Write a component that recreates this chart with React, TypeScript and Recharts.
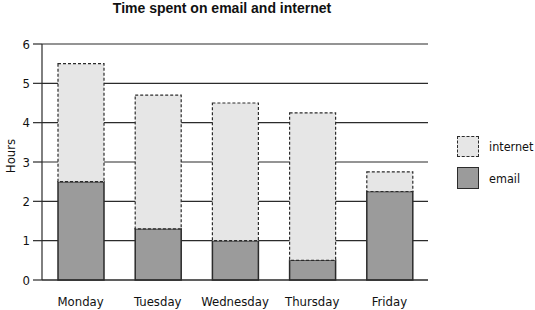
import React from 'react';
import { BarChart, Bar, XAxis, YAxis, CartesianGrid, ReferenceArea } from 'recharts';

const days = ['Monday', 'Tuesday', 'Wednesday', 'Thursday', 'Friday'];
const email = [2.5, 1.3, 1.0, 0.5, 2.25];
const internet = [3.0, 3.4, 3.5, 3.75, 0.5];
const yTicks = [0, 1, 2, 3, 4, 5, 6];

const data = days.map((d, i) => ({ day: d, email: email[i], internet: internet[i] }));

const FONT = '"DejaVu Sans Condensed", "Liberation Sans Narrow", sans-serif';
const EMAIL_FILL = '#9b9b9b';
const NET_FILL = '#e6e6e6';
const STROKE = '#2b2b2b';

const ChartLegend = () => (
  <div style={{ position: 'absolute', left: 457, top: 135, width: 78, whiteSpace: 'nowrap', fontFamily: FONT, fontSize: 12.5, color: '#111' }}>
    <div style={{ display: 'flex', alignItems: 'center', height: 22, marginBottom: 10 }}>
      <div style={{ width: 22, height: 21, flex: 'none', background: NET_FILL, border: `1.5px dashed ${STROKE}`, boxSizing: 'border-box', marginRight: 10 }} />
      <span>internet</span>
    </div>
    <div style={{ display: 'flex', alignItems: 'center', height: 22 }}>
      <div style={{ width: 22, height: 22, flex: 'none', background: EMAIL_FILL, border: `1.5px solid ${STROKE}`, boxSizing: 'border-box', marginRight: 10 }} />
      <span>email</span>
    </div>
  </div>
);

export default function App() {
  return (
    <div style={{ position: 'absolute', left: 0, top: 0, width: 535, height: 310, background: '#fff' }}>
      <div style={{ position: 'absolute', left: 22, top: 0, width: 400, textAlign: 'center', fontFamily: '"Liberation Sans", Arial, sans-serif', fontWeight: 'bold', fontSize: 14, color: '#111' }}>
        Time spent on email and internet
      </div>
      <BarChart width={535} height={310} data={data} margin={{ top: 44, right: 107, left: 0, bottom: 0 }} barCategoryGap={0}>
        <CartesianGrid vertical={false} stroke={STROKE} strokeWidth={1.2} />
        <XAxis dataKey="day" height={30} tickLine={false} axisLine={{ stroke: STROKE, strokeWidth: 1.2 }} tick={{ fill: '#111', fontFamily: FONT, fontSize: 13 }} tickMargin={11} interval={0} />
        <YAxis width={42} domain={[0, 6]} ticks={yTicks} tickSize={9} tickLine={{ stroke: STROKE, strokeWidth: 1.2 }} axisLine={{ stroke: STROKE, strokeWidth: 1.2 }} tick={{ fill: '#111', fontFamily: FONT, fontSize: 13 }} tickMargin={3}
          label={{ value: 'Hours', angle: -90, position: 'insideLeft', offset: 10, dy: -6, style: { fill: '#111', fontFamily: FONT, fontSize: 13, textAnchor: 'middle' } }} />
        <Bar dataKey="email" stackId="a" fill={EMAIL_FILL} stroke={STROKE} strokeWidth={1.5} barSize={46} isAnimationActive={false} />
        <Bar dataKey="internet" stackId="a" fill={NET_FILL} stroke={STROKE} strokeWidth={1.2} strokeDasharray="3 2" barSize={46} isAnimationActive={false} />
        <ReferenceArea fill="none" stroke={STROKE} strokeWidth={1.2} fillOpacity={0} ifOverflow="visible" />
      </BarChart>
      <ChartLegend />
    </div>
  );
}
